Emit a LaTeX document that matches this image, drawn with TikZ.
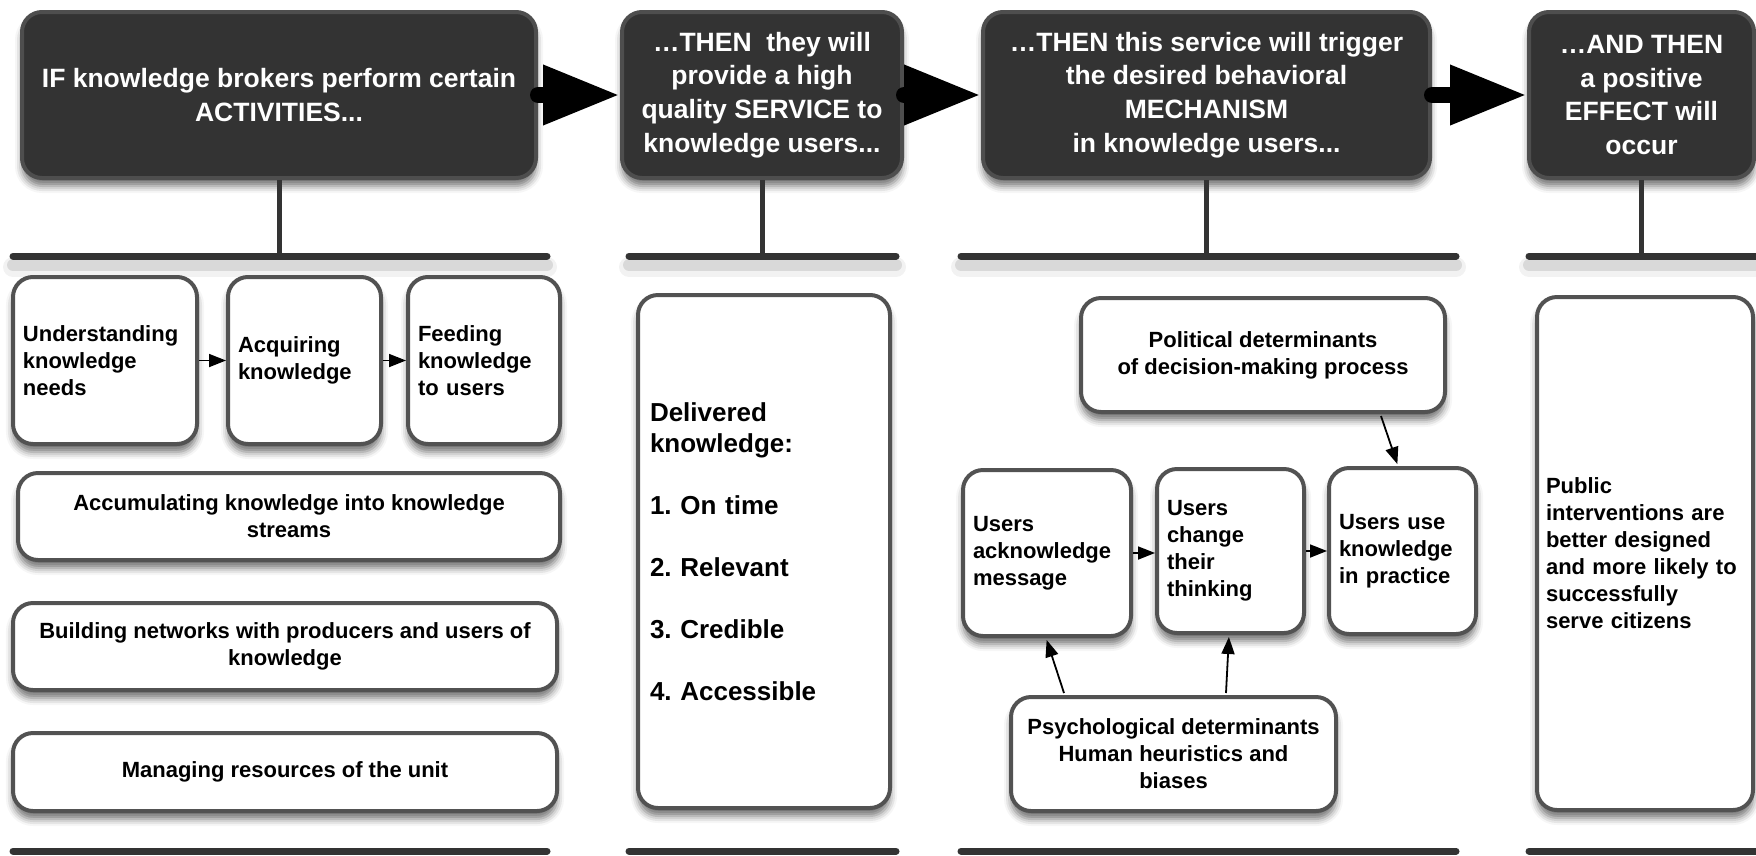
\documentclass[tikz,border=0pt]{standalone}
\usepackage{fontspec}
\setmainfont{Liberation Sans}
\usetikzlibrary{arrows.meta,shadows.blur,calc}
\definecolor{hfill}{RGB}{51,51,51}
\definecolor{hedge}{RGB}{78,78,78}
\definecolor{bedge}{RGB}{82,82,82}
\definecolor{barc}{RGB}{51,51,51}
\frenchspacing
\tikzset{
  shad/.style={blur shadow={shadow xshift=0pt,shadow yshift=-8pt,shadow blur radius=7pt,shadow opacity=55}},
  hdr/.style={rectangle,rounded corners=20pt,fill=hfill,draw=hedge,line width=4pt,text=white,
    font=\fontsize{26.5}{33.6}\selectfont\bfseries,align=center,inner sep=0pt,shad},
  box/.style={rectangle,rounded corners=20pt,fill=white,draw=bedge,line width=4pt,
    font=\fontsize{22}{27}\selectfont\bfseries,inner sep=0pt,shad},
  cbox/.style={box,align=center},
  lbox/.style={box,align=left,inner xsep=10pt},
  bar/.style={line width=7pt,line cap=round,draw=barc},
  barshade/.style={line width=12pt,line cap=round,draw=black,opacity=0.10},
  stem/.style={line width=5pt,draw=barc},
  bigarrow/.style={line width=16pt,line cap=round,draw=black,-{Triangle[length=77pt,width=56pt]}},
  sarrow/.style={line width=1.8pt,draw=black,-{Triangle[length=17pt,width=13pt]}}
}
\begin{document}
\begin{tikzpicture}[x=1pt,y=-1pt]
\useasboundingbox (0,0) rectangle (1756,855);

% bar coordinates
\coordinate (t1l) at (13,256);   \coordinate (t1r) at (547,256);
\coordinate (t2l) at (629,256);  \coordinate (t2r) at (896,256);
\coordinate (t3l) at (961,256);  \coordinate (t3r) at (1456,256);
\coordinate (t4l) at (1529,256); \coordinate (t4r) at (1760,256);
\coordinate (b1l) at (13,851);   \coordinate (b1r) at (547,851);
\coordinate (b2l) at (629,851);  \coordinate (b2r) at (896,851);
\coordinate (b3l) at (961,851);  \coordinate (b3r) at (1456,851);
\coordinate (b4l) at (1529,851); \coordinate (b4r) at (1760,851);

% bar shadows
\foreach \a/\b in {t1l/t1r,t2l/t2r,t3l/t3r,t4l/t4r}{
  \draw[barshade] ($(\a)+(0,9)$) -- ($(\b)+(0,9)$);
  \draw[barshade,line width=20pt,opacity=0.05] ($(\a)+(0,11)$) -- ($(\b)+(0,11)$);
}

% header boxes
\node[hdr,minimum width=514pt,minimum height=166pt] (h1) at (279,95)
  {IF knowledge brokers perform certain\\ACTIVITIES...};
\node[hdr,minimum width=280pt,minimum height=166pt] (h2) at (762,95)
  {…THEN\ \ they will\\provide a high\\quality SERVICE to\\knowledge users...};
\node[hdr,minimum width=447pt,minimum height=166pt] (h3) at (1206.5,95)
  {…THEN this service will trigger\\the desired behavioral\\MECHANISM\\in knowledge users...};
\node[hdr,minimum width=225pt,minimum height=166pt] (h4) at (1641.5,95)
  {…AND THEN\\a positive\\EFFECT will\\occur};

% header arrows
\draw[bigarrow] (h1.east) -- (h2.west);
\draw[bigarrow] (h2.east) -- (h3.west);
\draw[bigarrow] (h3.east) -- (h4.west);

% stems and bars
\draw[stem] (h1.south) -- (h1.south |- t1l);
\draw[stem] (h2.south) -- (h2.south |- t2l);
\draw[stem] (h3.south) -- (h3.south |- t3l);
\draw[stem] (h4.south) -- (h4.south |- t4l);
\draw[bar] (t1l) -- (t1r);
\draw[bar] (t2l) -- (t2r);
\draw[bar] (t3l) -- (t3r);
\draw[bar] (t4l) -- (t4r);

% column 1
\node[lbox,text width=164pt,minimum height=167pt] (u1) at (105,360.5)
  {Understanding\\knowledge\\needs};
\node[lbox,text width=133pt,minimum height=167pt] (u2) at (304.5,360.5)
  {Acquiring\\knowledge};
\node[lbox,text width=132pt,minimum height=167pt] (u3) at (484,360.5)
  {Feeding\\knowledge\\to users};
\draw[sarrow] (u1.east) -- (u2.west);
\draw[sarrow] (u2.east) -- (u3.west);
\node[cbox,minimum width=542pt,minimum height=87pt] (acc) at (289,516.5)
  {Accumulating knowledge into knowledge\\streams};
\node[cbox,minimum width=544pt,minimum height=87pt] (bld) at (285,646.5)
  {Building networks with producers and users of\\knowledge};
\node[cbox,minimum width=544pt,minimum height=78pt] (mgr) at (285,772)
  {Managing resources of the unit};

% column 2
\node[lbox,inner xsep=12pt,text width=228pt,minimum height=513pt,
  font=\fontsize{26}{31}\selectfont\bfseries] (dlv) at (764,551.5)
  {Delivered\\knowledge:\\[31pt]1. On time\\[31pt]2. Relevant\\[31pt]3. Credible\\[31pt]4. Accessible};

% column 3
\node[cbox,minimum width=364pt,minimum height=114pt] (pol) at (1263,355)
  {Political determinants\\of decision-making process};
\node[lbox,text width=148pt,minimum height=166pt] (ack) at (1047,553)
  {Users\\acknowledge\\message};
\node[lbox,text width=127pt,minimum height=164pt] (chg) at (1230.5,551)
  {Users\\change\\their\\thinking};
\node[lbox,text width=127pt,minimum height=166pt] (use) at (1402.5,551)
  {Users use\\knowledge\\in practice};
\node[cbox,minimum width=325pt,minimum height=114pt] (psy) at (1173.5,754)
  {Psychological determinants\\Human heuristics and\\biases};
\draw[sarrow] (ack.east) -- (ack.east -| chg.west);
\draw[sarrow] (chg.east) -- (chg.east -| use.west);
\draw[sarrow,shorten >=2pt] ($(pol.south west)+(302,2)$) -- ($(use.north west)+(71,0)$);
\draw[sarrow,shorten >=2pt] ($(psy.north west)+(55,-2)$) -- ($(ack.south west)+(85,0)$);
\draw[sarrow,shorten >=2pt] ($(psy.north west)+(217,-2)$) -- ($(chg.south west)+(74,0)$);

% column 4
\node[lbox,inner xsep=9pt,text width=198pt,minimum height=513pt] (pub) at (1645,553.5)
  {Public\\interventions are\\better designed\\and more likely to\\successfully\\serve citizens};

% bottom bars
\foreach \a/\b in {b1l/b1r,b2l/b2r,b3l/b3r,b4l/b4r}{
  \draw[bar] (\a) -- (\b);
}
\end{tikzpicture}
\end{document}
